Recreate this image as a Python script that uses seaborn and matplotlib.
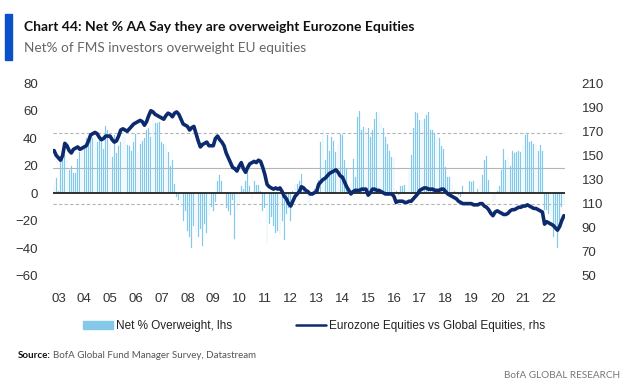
import numpy as np
import pandas as pd
import matplotlib.pyplot as plt
from matplotlib.patches import Patch, Rectangle
from matplotlib.lines import Line2D
import seaborn as sns

# Monthly FMS readings, Nov 2002 - Aug 2022
months = pd.date_range("2002-11-01", "2022-08-01", freq="MS")

# Net % overweight Eurozone equities (lhs)
net_ow = (
    [6, 11]
    + [2, 26, 30, 28, 24, 17, 20, 15, 15, 25, 30, 32]        # 2003
    + [34, 40, 38, 41, 40, 42, 37, 40, 38, 32, 49, 46]       # 2004
    + [36, 26, 42, 29, 34, 37, 41, 43, 35, 34, 31, 37]       # 2005
    + [43, 30, 36, 38, 40, 46, 47, 41, 53, 51, 51, 52]       # 2006
    + [37, 36, 35, 30, 20, 24, 7, -3, -5, -10, -20, -13]     # 2007
    + [-27, -32, -40, -24, -28, -32, -26, -38, -22, -29, -16, -10]  # 2008
    + [-13, -6, 9, 13, 9, 2, -11, -13, -16, -5, -33, -12]    # 2009
    + [-7, 5, 3, 9, 17, 5, -4, 9, 6, 6, 2, -13]              # 2010
    + [-11, -36, -22, -17, -24, -29, -27, -30, -20, -34, -15, -11]  # 2011
    + [-20, 2, 7, 7, 9, 14, 3, 2, -7, -8, -2, 3]             # 2012
    + [3, 10, 37, 46, 24, 42, 31, 41, 38, 30, 36, 43]        # 2013
    + [42, 24, 18, 4, 8, 25, 12, 55, 60, 46, 48, 47]         # 2014
    + [47, 41, 46, 54, 59, 58, 51, 47, 41, 36, 31, 26]       # 2015
    + [26, 2, -1, 5, 5, 6, 0, 17, 28, 47, 59, 58]            # 2016
    + [53, 53, 54, 57, 59, 46, 46, 44, 41, 40, 34, 32]       # 2017
    + [19, 12, 12, 7, 2, 0, -1, -3, 5, 2, 0, 9]              # 2018
    + [8, 9, 0, 3, 6, 13, 24, 27, 10, 1, -6, -5]             # 2019
    + [2, 5, 17, 32, 24, 26, 20, 31, 29, 30, 31, 30]         # 2020
    + [35, 42, 44, 37, 38, 36, 35, 31, 35, 31, -12, -12]     # 2021
    + [-15, -17, -32, -24, -40, -20, -10, -8]                # 2022
)

# Eurozone equities vs global equities (rhs)
rel_perf = (
    [154, 150]
    + [148, 146, 150, 160, 158, 154, 152, 155, 156, 157, 155, 156]
    + [157, 158, 162, 167, 168, 169, 168, 165, 163, 164, 166, 166]
    + [166, 163, 161, 162, 166, 171, 172, 171, 170, 172, 174, 176]
    + [177, 178, 179, 178, 175, 178, 183, 187, 186, 184, 183, 182]
    + [181, 180, 183, 185, 184, 182, 185, 186, 184, 180, 176, 175]
    + [174, 171, 173, 174, 168, 162, 157, 159, 160, 161, 158, 158]
    + [158, 164, 166, 163, 161, 158, 152, 148, 144, 140, 139, 137]
    + [141, 144, 139, 136, 140, 143, 144, 145, 144, 146, 145, 140]
    + [134, 126, 124, 123, 122, 123, 122, 123, 120, 116, 114, 110]
    + [108, 112, 116, 118, 120, 124, 123, 121, 120, 118, 118, 119]
    + [120, 126, 128, 130, 131, 133, 135, 136, 137, 138, 136, 133]
    + [132, 128, 124, 121, 118, 120, 121, 121, 121, 122, 122, 122]
    + [117, 119, 122, 122, 121, 121, 120, 119, 118, 118, 118, 118]
    + [116, 111, 112, 112, 112, 111, 111, 112, 112, 114, 116, 118]
    + [121, 122, 123, 123, 122, 122, 122, 121, 121, 121, 122, 122]
    + [120, 118, 117, 116, 115, 114, 112, 111, 110, 110, 110, 110]
    + [110, 109, 109, 109, 110, 110, 108, 107, 105, 102, 100, 103]
    + [104, 103, 102, 101, 101, 102, 104, 105, 105, 106, 107, 107]
    + [108, 108, 109, 108, 107, 106, 106, 105, 104, 103, 93, 95]
    + [94, 93, 92, 90, 88, 91, 96, 100]
)

tick_years = list(range(2003, 2023))
tick_labels = [f"{y % 100:02d}" for y in tick_years]
left_ticks = list(range(-60, 81, 20))
right_ticks = list(range(50, 211, 20))

# average and +/- 1 st dev of the survey reading
avg_ow = 18.5
upper_band = 44
lower_band = -7.5

df = pd.DataFrame({"month": months, "net_ow": net_ow, "rel_perf": rel_perf})
df["pos"] = np.arange(len(df))

sns.set_style("white")
plt.rcParams["font.family"] = ["Liberation Sans", "DejaVu Sans"]

bar_color = "#84c8ea"
line_color = "#0d2a6e"

fig = plt.figure(figsize=(6.26, 3.91), dpi=100)
ax = fig.add_axes([53 / 626, 115 / 391, 512 / 626, 193 / 391])

ax.axhline(upper_band, color="#b5b5b5", lw=0.8, ls=(0, (3, 2)), zorder=0)
ax.axhline(lower_band, color="#b5b5b5", lw=0.8, ls=(0, (3, 2)), zorder=0)
ax.axhline(avg_ow, color="#b5b5b5", lw=0.8, zorder=0)

sns.barplot(data=df, x="pos", y="net_ow", native_scale=True, color=bar_color,
            width=0.38, linewidth=0.15, edgecolor=bar_color, saturation=1, ax=ax)
ax.axhline(0, color="#222222", lw=1.3, zorder=3)

ax2 = ax.twinx()
sns.lineplot(data=df, x="pos", y="rel_perf", color=line_color, lw=2.6, ax=ax2)

ax.set_xlim(-0.5, len(df) - 0.5)
ax.set_ylim(-60, 80)
ax2.set_ylim(50, 210)
ax.set_yticks(left_ticks)
ax2.set_yticks(right_ticks)
jan_pos = [df.loc[df["month"] == pd.Timestamp(f"{y}-01-01"), "pos"].iloc[0] for y in tick_years]
ax.set_xticks(jan_pos)
ax.set_xticklabels(tick_labels)

for a in (ax, ax2):
    a.set_xlabel("")
    a.set_ylabel("")
    for s in a.spines.values():
        s.set_visible(False)
    a.tick_params(length=0, labelsize=9.5, colors="#333333")
ax.tick_params(axis="y", pad=11)
ax2.tick_params(axis="y", pad=12)
ax.tick_params(axis="x", pad=12)

handles = [Patch(color=bar_color), Line2D([], [], color=line_color, lw=1.8)]
labels = ["Net % Overweight, lhs", "Eurozone Equities vs Global Equities, rhs"]
fig.legend(handles, labels, loc="center", bbox_to_anchor=(0.502, 1 - 326 / 391), ncol=2,
           frameon=False, fontsize=8.5, handlelength=2.5, handleheight=0.7,
           columnspacing=5.4, handletextpad=0.3, labelcolor="#222222")

fig.add_artist(Rectangle((5 / 626, 1 - 60 / 391), 7 / 626, 46 / 391,
                         transform=fig.transFigure, color="#0a50c8"))
fig.text(24 / 626, 1 - 27 / 391, "Chart 44: Net % AA Say they are overweight Eurozone Equities",
         family=["Lato", "DejaVu Sans"], weight="bold", fontsize=10, va="center", color="#111111")
fig.text(24 / 626, 1 - 48 / 391, "Net% of FMS investors overweight EU equities",
         family=["Lato", "DejaVu Sans"], fontsize=9.8, va="center", color="#666666")

src = fig.text(18 / 626, 1 - 355 / 391, "Source:", family=["Lato", "DejaVu Sans"],
               weight="bold", fontsize=7, va="center", color="#111111")
fig.canvas.draw()
bb = src.get_window_extent()
fig.text(bb.x1 / fig.bbox.width + 2 / 626, 1 - 355 / 391,
         "BofA Global Fund Manager Survey, Datastream", family=["Lato", "DejaVu Sans"],
         fontsize=7, va="center", color="#555555")
fig.text(620 / 626, 1 - 376 / 391, "BofA GLOBAL RESEARCH", family=["Lato", "DejaVu Sans"],
         fontsize=7.2, va="center", ha="right", color="#777777")

fig.savefig("out.png", dpi=100)
